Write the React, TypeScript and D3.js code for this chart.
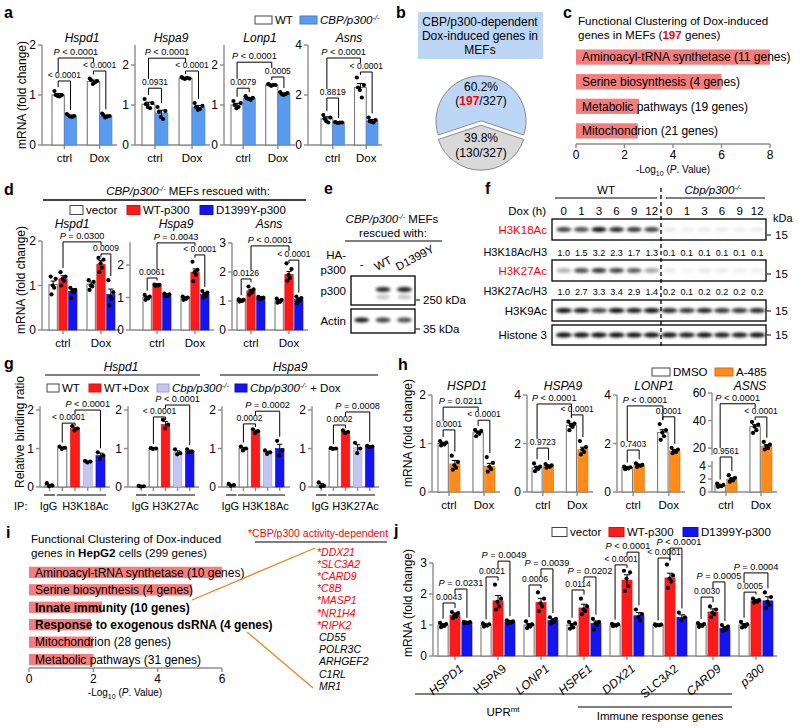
import React from "react";
import * as d3 from "d3";

const FONT = "'Liberation Sans', Arial, Helvetica, sans-serif";
const WHITE = "#ffffff";
const LBLUE = "#5a9bf0";
const RED = "#ff1a1a";
const BLUE = "#1414f0";
const LAV = "#c5c5f2";
const ORANGE = "#ff8c1a";
const PINK = "#f47e7e";
const AX = "#8c8c8c";
const TRED = "#ff0000";

type Br = [number, number, number, string, number?];

// ===== panel a =====
const aGenes = ["Hspd1", "Hspa9", "Lonp1", "Asns"];
const aCats = ["ctrl", "Dox"];
const aMax = [2, 2.5, 2.5, 4];
const aTicks = [[0, 1, 2], [0, 1, 2], [0, 1, 2], [0, 2, 4]];
const aMeans = [[1.0, 0.58, 1.27, 0.58], [1.02, 0.8, 1.67, 0.95], [1.0, 1.17, 1.5, 1.28], [1.05, 0.9, 2.3, 0.97]];
const aSems = [[0.03, 0.02, 0.03, 0.02], [0.05, 0.07, 0.02, 0.04], [0.04, 0.02, 0.02, 0.02], [0.08, 0.01, 0.16, 0.05]];
const aDots = [
  [[1.08, 1.0, 0.98, 0.97, 1.0], [0.62, 0.58, 0.57, 0.56, 0.6], [1.33, 1.28, 1.22, 1.25, 1.3], [0.63, 0.58, 0.55, 0.57, 0.6]],
  [[1.15, 1.05, 0.95, 0.92, 1.02], [0.95, 0.85, 0.7, 0.65, 0.83], [1.7, 1.66, 1.65, 1.68, 1.67], [1.05, 0.98, 0.88, 0.9, 0.95]],
  [[1.1, 1.05, 0.92, 0.95, 1.0], [1.22, 1.18, 1.15, 1.13, 1.17], [1.52, 1.5, 1.48, 1.5, 1.51], [1.32, 1.3, 1.25, 1.27, 1.28]],
  [[1.2, 1.1, 0.95, 0.9, 1.05], [0.92, 0.9, 0.88, 0.9, 0.9], [2.7, 2.4, 2.2, 1.9, 2.3], [1.1, 1.0, 0.92, 0.9, 0.95]],
];
const aBr: Br[][] = [
  [[0, 1, 1.28, "< 0.0001"], [2, 3, 1.48, "< 0.0001"], [0, 2, 1.74, "P < 0.0001"]],
  [[0, 1, 1.42, "0.0931"], [2, 3, 1.85, "< 0.0001"], [0, 2, 2.17, "P < 0.0001"]],
  [[0, 1, 1.42, "0.0079"], [2, 3, 1.7, "0.0005"], [0, 2, 2.07, "P < 0.0001"]],
  [[0, 1, 1.88, "0.8819"], [2, 3, 2.92, "< 0.0001"], [0, 2, 3.48, "P < 0.0001"]],
];

// ===== panel b =====
const pieVals = [197, 130];
const pieColors = ["#bcd6f6", "#d9d9d9"];

// ===== panel c =====
const cTerms = ["Aminoacyl-tRNA synthetase (11 genes)", "Serine biosynthesis (4 genes)", "Metabolic pathways (19 genes)", "Mitochondrion (21 genes)"];
const cVals = [8.0, 6.0, 2.6, 2.55];
const cTicks = [0, 2, 4, 6, 8];

// ===== panel d =====
const dGenes = ["Hspd1", "Hspa9", "Asns"];
const dCats = ["ctrl", "Dox"];
const dMax = [2, 2.7, 3];
const dTicks = [[0, 1, 2], [0, 1, 2], [0, 1, 2, 3]];
const dMeans = [[1.02, 1.15, 0.87, 1.03, 1.48, 0.8], [1.0, 1.38, 1.08, 0.98, 1.78, 1.1], [1.02, 1.35, 1.1, 1.0, 1.92, 1.05]];
const dSems = [[0.08, 0.07, 0.06, 0.05, 0.08, 0.12], [0.03, 0.01, 0.02, 0.03, 0.1, 0.05], [0.02, 0.05, 0.02, 0.03, 0.1, 0.05]];
const dDots = [
  [[1.2, 1.15, 1.0, 0.95, 0.8], [1.3, 1.2, 1.15, 1.1, 1.0], [0.95, 0.9, 0.88, 0.85, 0.72], [1.12, 1.08, 1.0, 0.98, 0.9], [1.62, 1.58, 1.5, 1.4, 1.3], [1.12, 0.85, 0.75, 0.7, 0.55]],
  [[1.08, 1.03, 1.0, 0.97, 0.93], [1.4, 1.39, 1.38, 1.37, 1.36], [1.12, 1.1, 1.08, 1.06, 1.04], [1.03, 1.0, 0.98, 0.96, 0.93], [2.1, 1.85, 1.78, 1.7, 1.5], [1.2, 1.15, 1.1, 1.05, 1.0]],
  [[1.06, 1.04, 1.02, 1.0, 0.98], [1.5, 1.4, 1.35, 1.3, 1.22], [1.14, 1.12, 1.1, 1.08, 1.06], [1.08, 1.04, 1.0, 0.97, 0.94], [2.3, 2.1, 1.9, 1.8, 1.7], [1.15, 1.1, 1.05, 1.0, 0.92]],
];
const dBr: Br[][] = [
  [[1, 4, 1.98, "P = 0.0300"], [4, 5, 1.71, "0.0009"]],
  [[0, 1, 1.6, "0.0061"], [1, 4, 2.68, "P = 0.0043"], [4, 5, 2.31, "< 0.0001"]],
  [[0, 1, 1.76, "0.0126"], [1, 4, 2.9, "P < 0.0001"], [4, 5, 2.41, "< 0.0001"]],
];

// ===== panel e =====
const eLanes = ["-", "WT", "D1399Y"];
const eP300 = [0, 0.85, 0.9];
const eActin = [0.9, 0.75, 0.7];

// ===== panel f =====
const fLanes = ["0", "1", "3", "6", "9", "12", "0", "1", "3", "6", "9", "12"];
const fK18Ratio = ["1.0", "1.5", "3.2", "2.3", "1.7", "1.3", "0.1", "0.1", "0.1", "0.1", "0.1", "0.1"];
const fK27Ratio = ["1.0", "2.7", "3.3", "3.4", "2.9", "1.4", "0.2", "0.1", "0.2", "0.2", "0.2", "0.2"];
const fK18Band = [0.75, 0.7, 0.95, 0.85, 0.8, 0.75, 0.08, 0.05, 0.07, 0.07, 0.06, 0.07];
const fK27Band = [0.3, 0.7, 0.8, 0.75, 0.65, 0.35, 0.07, 0.04, 0.09, 0.07, 0.06, 0.06];
const fK9Band = [0.95, 0.9, 0.75, 0.95, 0.9, 0.95, 0.85, 0.8, 0.88, 0.8, 0.8, 0.85];
const fH3Band = [0.95, 0.95, 0.95, 0.95, 0.95, 0.95, 0.95, 0.9, 0.95, 0.9, 0.9, 0.95];

// ===== panel g =====
const gAb = ["H3K18Ac", "H3K27Ac", "H3K18Ac", "H3K27Ac"];
const gMeans = [[0.05, 1.02, 1.52, 0.66, 0.82], [0.02, 1.0, 1.63, 0.9, 0.93], [0.05, 1.0, 1.45, 0.9, 1.0], [0.05, 1.0, 1.43, 1.02, 1.05]];
const gSems = [[0.02, 0.02, 0.03, 0.01, 0.06], [0.01, 0.01, 0.07, 0.04, 0.03], [0.02, 0.03, 0.03, 0.03, 0.11], [0.04, 0.01, 0.02, 0.08, 0.01]];
const gDots = [
  [[0.1, 0.04, 0.02], [1.05, 1.02, 0.99], [1.58, 1.52, 1.47], [0.68, 0.66, 0.64], [0.9, 0.82, 0.73]],
  [[0.03, 0.02, 0.01], [1.01, 1.0, 0.99], [1.75, 1.62, 1.52], [0.98, 0.88, 0.85], [0.98, 0.92, 0.9]],
  [[0.08, 0.05, 0.03], [1.05, 1.0, 0.95], [1.5, 1.45, 1.4], [0.95, 0.9, 0.86], [1.2, 0.95, 0.82]],
  [[0.12, 0.03, 0.01], [1.01, 1.0, 0.99], [1.47, 1.43, 1.4], [1.15, 1.0, 0.88], [1.07, 1.05, 1.04]],
];
const gBr: Br[][] = [
  [[1, 2, 1.66, "< 0.0001"], [2, 4, 2.0, "P < 0.0001"]],
  [[1, 2, 1.82, "< 0.0001"], [2, 4, 2.13, "P < 0.0001"]],
  [[1, 2, 1.64, "0.0002"], [2, 4, 1.97, "P = 0.0002"]],
  [[1, 2, 1.61, "0.0002"], [2, 4, 1.95, "P = 0.0008"]],
];

// ===== panel h =====
const hGenes = ["HSPD1", "HSPA9", "LONP1", "ASNS"];
const hCats = ["ctrl", "Dox"];
const hMeans = [[1.0, 0.58, 1.22, 0.53], [1.0, 1.07, 2.75, 1.75], [1.0, 1.1, 2.45, 1.7], [1.0, 2.0, 35.5, 21.5]];
const hSems = [[0.02, 0.07, 0.03, 0.06], [0.06, 0.03, 0.08, 0.1], [0.03, 0.03, 0.12, 0.05], [0.1, 0.15, 1.6, 1.0]];
const hDots = [
  [[1.05, 1.02, 1.0, 0.98, 0.96], [0.75, 0.62, 0.55, 0.5, 0.46], [1.28, 1.26, 1.23, 1.2, 1.15], [0.72, 0.6, 0.52, 0.47, 0.42]],
  [[1.18, 1.05, 1.0, 0.95, 0.86], [1.15, 1.1, 1.07, 1.04, 1.0], [2.9, 2.82, 2.75, 2.68, 2.55], [2.1, 1.85, 1.75, 1.65, 1.55]],
  [[1.05, 1.02, 1.0, 0.97, 0.94], [1.18, 1.12, 1.1, 1.08, 1.03], [2.8, 2.55, 2.45, 2.3, 2.15], [1.82, 1.75, 1.7, 1.65, 1.6]],
  [[1.3, 1.1, 1.0, 0.9, 0.8], [2.6, 2.2, 2.0, 1.8, 1.6], [39, 37, 35.5, 33, 31], [24.5, 22.5, 21.5, 20, 19]],
];
const hBr: Br[][] = [
  [[0, 1, 1.28, "0.0001"], [2, 3, 1.48, "< 0.0001"], [0, 2, 1.75, "P = 0.0211"]],
  [[0, 1, 1.81, "0.9723"], [2, 3, 3.18, "< 0.0001"], [0, 2, 3.63, "P < 0.0001"]],
  [[0, 1, 1.73, "0.7403"], [2, 3, 3.1, "0.0001"], [0, 2, 3.55, "P < 0.0001"]],
  [[0, 1, 11.6, "0.9561"], [2, 3, 42.6, "< 0.0001"], [0, 2, 52.2, "P < 0.0001"]],
];

// ===== panel i =====
const iTerms = ["Aminoacyl-tRNA synthetase (10 genes)", "Serine biosynthesis (4 genes)", "Innate immunity (10 genes)", "Response to exogenous dsRNA (4 genes)", "Mitochondrion (28 genes)", "Metabolic pathways (31 genes)"];
const iVals = [6.0, 5.07, 2.27, 1.93, 2.0, 2.0];
const iBold = [false, false, true, true, false, false];
const iTicks = [0, 2, 4, 6];
const iGenesRed = ["DDX21", "SLC3A2", "CARD9", "C8B", "MASP1", "NR1H4", "RIPK2"];
const iGenesBlack = ["CD55", "POLR3C", "ARHGEF2", "C1RL", "MR1"];

// ===== panel j =====
const jGenes = ["HSPD1", "HSPA9", "LONP1", "HSPE1", "DDX21", "SLC3A2", "CARD9", "p300"];
const jItalic = [true, false, true, true, true, false, true, true];
const jMeans = [[1.0, 1.32, 1.08], [1.0, 1.78, 1.1], [1.0, 1.73, 1.15], [1.0, 1.55, 1.05], [1.0, 2.45, 1.3], [1.0, 2.52, 1.25], [1.0, 1.42, 0.9], [1.0, 1.78, 1.78]];
const jSems = [[0.03, 0.07, 0.02], [0.02, 0.17, 0.03], [0.04, 0.13, 0.05], [0.05, 0.12, 0.08], [0.02, 0.17, 0.1], [0.01, 0.15, 0.08], [0.03, 0.1, 0.05], [0.04, 0.05, 0.13]];
const jDots = [
  [[1.07, 1.03, 1.0, 0.97, 0.93], [1.42, 1.38, 1.32, 1.28, 1.22], [1.1, 1.09, 1.08, 1.07, 1.06]],
  [[1.05, 1.02, 1.0, 0.98, 0.95], [2.3, 1.85, 1.75, 1.6, 1.5], [1.15, 1.12, 1.1, 1.08, 1.05]],
  [[1.12, 1.02, 1.0, 0.95, 0.9], [2.05, 1.85, 1.7, 1.6, 1.45], [1.25, 1.2, 1.15, 1.1, 1.05]],
  [[1.1, 1.05, 1.0, 0.92, 0.88], [1.85, 1.6, 1.5, 1.45, 1.35], [1.2, 1.1, 1.05, 1.0, 0.85]],
  [[1.04, 1.02, 1.0, 0.98, 0.96], [2.75, 2.7, 2.5, 2.25, 2.1], [1.5, 1.35, 1.25, 1.15]],
  [[1.02, 1.01, 1.0, 0.99, 0.98], [2.95, 2.6, 2.5, 2.4, 2.2], [1.4, 1.25, 1.15]],
  [[1.06, 1.03, 1.0, 0.97, 0.94], [1.6, 1.5, 1.4, 1.35, 1.25], [1.0, 0.95, 0.9, 0.85, 0.82]],
  [[1.1, 1.02, 1.0, 0.95, 0.92], [1.85, 1.8, 1.78, 1.75, 1.72], [2.05, 1.9, 1.75, 1.65, 1.55]],
];
const jBr: Br[][] = [
  [[0, 1, 1.71, "0.0043"], [1, 2, 2.16, "P = 0.0231"]],
  [[0, 1, 2.55, "0.0021"], [1, 2, 3.06, "P = 0.0049"]],
  [[0, 1, 2.29, "0.0006"], [1, 2, 2.81, "P = 0.0039"]],
  [[0, 1, 2.13, "0.0114"], [1, 2, 2.55, "P = 0.0202"]],
  [[0, 1, 2.94, "< 0.0001"], [1, 2, 3.35, "P < 0.0001", -5]],
  [[0, 1, 3.16, "< 0.0001"], [1, 2, 3.48, "P < 0.0001", 3]],
  [[0, 1, 1.9, "0.0030"], [1, 2, 2.39, "P = 0.0005"]],
  [[0, 1, 2.06, "0.0005"], [0, 2, 2.68, "P = 0.0004"]],
];

// ================= helpers =================
const JIT = [-0.3, 0.3, -0.05, 0.12, -0.2, 0.25];

function PText({ x, y, t, size }: any) {
  if (t.startsWith("P")) {
    return (
      <text x={x} y={y} fontSize={size} textAnchor="middle" style={{ whiteSpace: "pre" }}>
        <tspan fontStyle="italic">P</tspan>
        {t.slice(1)}
      </text>
    );
  }
  return (
    <text x={x} y={y} fontSize={size} textAnchor="middle" style={{ whiteSpace: "pre" }}>
      {t}
    </text>
  );
}

function KO({ name, rest = "", sup = 7.5, lift = 4.5 }: any) {
  return (
    <>
      <tspan fontStyle="italic">{name}</tspan>
      <tspan dy={-lift} fontSize={sup} fontStyle="italic">-/-</tspan>
      <tspan dy={lift}>{rest}</tspan>
    </>
  );
}

function BarPlot(c: any) {
  const outer = d3.scaleBand<number>().domain(d3.range(c.nG)).range([c.bs, c.be]).paddingInner(c.pi).paddingOuter(0);
  const inner = d3.scaleBand<number>().domain(d3.range(c.nP)).range([0, outer.bandwidth()]).paddingInner(c.ip);
  const bw = inner.bandwidth();
  const n = c.nG * c.nP;
  const bx = (k: number) => (outer(Math.floor(k / c.nP)) as number) + (inner(k % c.nP) as number);
  const bc = (k: number) => bx(k) + bw / 2;
  const gc = (g: number) => (outer(g) as number) + outer.bandwidth() / 2;
  const y = c.y;
  const y0 = y(0);
  const R = 2.1;
  const dom = y.domain();
  const segs = c.segs ?? [[0, dom[dom.length - 1]]];
  const topPx = (k: number) => y(Math.max(c.means[k] + c.sems[k], ...c.dots[k])) - R - 2;
  const brY = c.brackets.map((b: Br) => y(b[2]));
  const legB = (bi: number, k: number) => {
    const yb = brY[bi];
    const cands = [topPx(k)];
    c.brackets.forEach((o: Br, oi: number) => {
      if (oi !== bi && brY[oi] > yb && o[0] <= k && k <= o[1]) cands.push(brY[oi] - 9);
    });
    const ok = cands.filter((v: number) => v > yb + 2);
    return ok.length ? Math.min(...ok) : yb + 3;
  };
  const tickXs = c.tickEach ? d3.range(n).map(bc) : d3.range(c.nG).map(gc);
  return (
    <g>
      {segs.map((s: number[], i: number) => (
        <line key={"s" + i} x1={c.x0} x2={c.x0} y1={y(s[0])} y2={y(s[1])} stroke={AX} strokeWidth={1.4} />
      ))}
      {c.ticks.map((t: number) => (
        <g key={"t" + t}>
          <line x1={c.x0 - 4} x2={c.x0} y1={y(t)} y2={y(t)} stroke={AX} strokeWidth={1.4} />
          <text x={c.x0 - 6} y={y(t)} dy="0.36em" textAnchor="end" fontSize={12}>
            {t}
          </text>
        </g>
      ))}
      <line x1={c.x0} x2={c.xEnd} y1={y0} y2={y0} stroke={AX} strokeWidth={1.4} />
      {tickXs.map((x: number, i: number) => (
        <line key={"xt" + i} x1={x} x2={x} y1={y0} y2={y0 + 4} stroke={AX} strokeWidth={1.4} />
      ))}
      {d3.range(n).map((k) => {
        const col = c.colors[k % c.colors.length];
        const white = col === WHITE;
        const yt = y(c.means[k]);
        return (
          <rect
            key={"b" + k}
            x={bx(k)}
            y={yt}
            width={bw}
            height={y0 - yt}
            fill={col}
            stroke={white ? "#7a7a7a" : (d3.color(col) as any).darker(0.5).toString()}
            strokeWidth={white ? 1.1 : 0.6}
          />
        );
      })}
      {d3.range(n).map((k) => {
        const m = c.means[k];
        const s = c.sems[k];
        const cx = bc(k);
        const cap = Math.min(3.5, bw * 0.3);
        return (
          <g key={"e" + k}>
            <line x1={cx} x2={cx} y1={y(Math.max(0, m - s))} y2={y(m + s)} stroke="#000" strokeWidth={1} />
            <line x1={cx - cap} x2={cx + cap} y1={y(m + s)} y2={y(m + s)} stroke="#000" strokeWidth={1} />
            {c.dots[k].map((v: number, i: number) => (
              <circle key={i} cx={cx + JIT[i] * bw} cy={y(v)} r={R} fill="#000" />
            ))}
          </g>
        );
      })}
      {c.brackets.map((b: Br, bi: number) => {
        const xa = bc(b[0]);
        const xb = bc(b[1]);
        const yb = brY[bi];
        return (
          <g key={"br" + bi}>
            <path d={`M${xa},${legB(bi, b[0])}V${yb}H${xb}V${legB(bi, b[1])}`} fill="none" stroke="#000" strokeWidth={1} />
            <PText x={(xa + xb) / 2 + (b[4] ?? 0)} y={yb - 3} t={b[3]} size={b[3].startsWith("P") ? 9.2 : 8.5} />
          </g>
        );
      })}
      {c.title && (
        <text x={c.titleX} y={c.titleY} textAnchor="middle" fontSize={12} fontStyle="italic">
          {c.title}
        </text>
      )}
      {c.cats &&
        c.cats.map((t: string, g: number) => (
          <text key={"c" + g} x={gc(g)} y={y0 + 17} textAnchor="middle" fontSize={11.5}>
            {t}
          </text>
        ))}
      {c.rot &&
        c.rot.map((t: string, g: number) => (
          <text
            key={"r" + g}
            transform={`translate(${gc(g) + 9},${y0 + 14}) rotate(-40)`}
            textAnchor="end"
            fontSize={12}
            fontStyle={c.rotIt[g] ? "italic" : "normal"}
          >
            {t}
          </text>
        ))}
      {c.under &&
        c.under.map((u: any, i: number) => {
          const xa = bx(u[0]) - 1;
          const xb = bx(u[1]) + bw + 1;
          return (
            <g key={"u" + i}>
              <line x1={xa} x2={xb} y1={y0 + 8} y2={y0 + 8} stroke="#000" strokeWidth={1.1} />
              <text x={(xa + xb) / 2 + (u[3] ?? 0)} y={y0 + 23} textAnchor="middle" fontSize={11}>
                {u[2]}
              </text>
            </g>
          );
        })}
    </g>
  );
}

function Legend({ items, y, w = 15, h = 8, size = 11.5 }: any) {
  return (
    <g>
      {items.map((it: any, i: number) => (
        <g key={i}>
          <rect
            x={it.x}
            y={y - h / 2}
            width={w}
            height={h}
            fill={it.color}
            stroke={it.color === WHITE ? "#444" : (d3.color(it.color) as any).darker(0.6).toString()}
            strokeWidth={1}
          />
          <text x={it.x + w + 3} y={y} dy="0.36em" fontSize={size}>
            {it.label}
          </text>
        </g>
      ))}
    </g>
  );
}

function YTitle({ x, y, text, size = 12 }: any) {
  return (
    <text transform={`translate(${x},${y}) rotate(-90)`} textAnchor="middle" dy="0.35em" fontSize={size}>
      {text}
    </text>
  );
}

function LogTitle({ x, y }: any) {
  return (
    <text x={x} y={y} textAnchor="middle" fontSize={10}>
      -Log
      <tspan dy={2.5} fontSize={7}>10</tspan>
      <tspan dy={-2.5}> (</tspan>
      <tspan fontStyle="italic">P</tspan>. Value)
    </text>
  );
}

function HBar({ x0, x1, max, ticks, yTop, yBot, axisY, values, labels, bold, pi, po }: any) {
  const x = d3.scaleLinear().domain([0, max]).range([x0, x1]);
  const yb = d3.scaleBand<number>().domain(d3.range(values.length)).range([yTop, yBot]).paddingInner(pi).paddingOuter(po);
  return (
    <g>
      {values.map((v: number, i: number) => (
        <rect key={"r" + i} x={x(0)} y={yb(i)} width={x(v) - x(0)} height={yb.bandwidth()} fill={PINK} />
      ))}
      {labels.map((t: string, i: number) => (
        <text
          key={"l" + i}
          x={x0 + 6}
          y={(yb(i) as number) + yb.bandwidth() / 2}
          dy="0.36em"
          fontSize={12}
          fontWeight={bold && bold[i] ? "bold" : "normal"}
        >
          {t}
        </text>
      ))}
      <line x1={x(0)} x2={x(max)} y1={axisY} y2={axisY} stroke={AX} strokeWidth={1.4} />
      {ticks.map((t: number) => (
        <g key={"t" + t}>
          <line x1={x(t)} x2={x(t)} y1={axisY} y2={axisY + 4} stroke={AX} strokeWidth={1.4} />
          <text x={x(t)} y={axisY + 15} textAnchor="middle" fontSize={12}>
            {t}
          </text>
        </g>
      ))}
    </g>
  );
}

function Blot({ x, y, w, h, centers, intens, bw, bh, dy = 0 }: any) {
  return (
    <g>
      <rect x={x} y={y} width={w} height={h} fill="#fff" stroke="#000" strokeWidth={1.3} />
      <g filter="url(#blur)">
        {centers.map((cx: number, i: number) =>
          intens[i] > 0 ? (
            <ellipse key={i} cx={cx} cy={y + h / 2 + dy} rx={bw / 2} ry={bh / 2} fill="#000" fillOpacity={intens[i]} />
          ) : null
        )}
      </g>
    </g>
  );
}

const PanelLabel = ({ x, y, t }: any) => (
  <text x={x} y={y} fontSize={16} fontWeight="bold">
    {t}
  </text>
);

// ================= App =================
export default function App() {
  const aLay = [
    { x0: 42, bs: 52, be: 112, xEnd: 117, tx: 82 },
    { x0: 135, bs: 142, be: 205, xEnd: 210, tx: 171 },
    { x0: 224, bs: 231, be: 290, xEnd: 295, tx: 260 },
    { x0: 308, bs: 321, be: 378, xEnd: 382, tx: 349 },
  ];
  const dLay = [
    { x0: 42, bs: 49, be: 115, xEnd: 120, tx: 72 },
    { x0: 130, bs: 143, be: 209, xEnd: 214, tx: 176 },
    { x0: 232, bs: 237, be: 303, xEnd: 308, tx: 269 },
  ];
  const dRange: [number, number][] = [[330, 241], [330, 242.25], [330, 243]];
  const gLay = [
    { x0: 40, bs: 45, be: 105, xEnd: 110 },
    { x0: 128, bs: 137, be: 194, xEnd: 199 },
    { x0: 222, bs: 227, be: 284, xEnd: 290 },
    { x0: 312, bs: 317, be: 374, xEnd: 379 },
  ];
  const gY = d3.scaleLinear().domain([0, 2.1]).range([487, 406.2]);
  const hLay = [
    { x0: 432, bs: 438, be: 495, xEnd: 500, tx: 467 },
    { x0: 527, bs: 532, be: 588, xEnd: 593, tx: 563 },
    { x0: 617, bs: 622, be: 680, xEnd: 685, tx: 654 },
    { x0: 712, bs: 715, be: 772, xEnd: 777, tx: 750 },
  ];
  const hY = [
    d3.scaleLinear().domain([0, 2]).range([492, 395]),
    d3.scaleLinear().domain([0, 4]).range([492, 395]),
    d3.scaleLinear().domain([0, 4]).range([492, 395]),
    d3.scaleLinear().domain([0, 4.8, 15, 60]).range([492, 461, 455, 393]),
  ];
  const hTicks = [[0, 1, 2], [0, 2, 4], [0, 2, 4], [0, 2, 4, 20, 40, 60]];
  const jY = d3.scaleLinear().domain([0, 3]).range([656, 563]);

  const total = d3.sum(pieVals);
  const start = Math.PI + (Math.PI * pieVals[1]) / total;
  const pieArcs = d3.pie<number>().sort(null).startAngle(start).endAngle(start + 2 * Math.PI)(pieVals);
  const arcGen = d3.arc<any>().innerRadius(0).outerRadius(45);
  const pcx = 481;
  const pcy = 123;

  const fX = d3.scalePoint<number>().domain(d3.range(12)).range([555, 766]).padding(0.5);
  const fCenters = d3.range(12).map((i) => fX(i) as number);
  const eX = d3.scalePoint<number>().domain(d3.range(3)).range([351, 415]).padding(0.5);
  const eCenters = d3.range(3).map((i) => eX(i) as number);

  return (
    <svg
      width={800}
      height={728}
      style={{ position: "absolute", left: 0, top: 0, background: "#fff" }}
      fontFamily={FONT}
    >
      <defs>
        <filter id="blur" x="-50%" y="-100%" width="200%" height="300%">
          <feGaussianBlur stdDeviation="1.4" />
        </filter>
      </defs>
      <rect width={800} height={728} fill="#fff" />

      {/* ===== a ===== */}
      <PanelLabel x={4} y={18} t="a" />
      <Legend
        y={20}
        w={17}
        h={8}
        items={[
          { x: 255, color: WHITE, label: "WT" },
          { x: 300, color: LBLUE, label: <KO name="CBP/p300" /> },
        ]}
      />
      <YTitle x={22} y={95} text="mRNA (fold change)" />
      {aGenes.map((gname, i) => (
        <BarPlot
          key={gname}
          {...aLay[i]}
          y={d3.scaleLinear().domain([0, aMax[i]]).range([145, 45])}
          ticks={aTicks[i]}
          nG={2}
          nP={2}
          pi={0.3}
          ip={0}
          means={aMeans[i]}
          sems={aSems[i]}
          dots={aDots[i]}
          colors={[WHITE, LBLUE]}
          brackets={aBr[i]}
          title={gname}
          titleX={aLay[i].tx}
          titleY={42}
          cats={aCats}
        />
      ))}

      {/* ===== b ===== */}
      <PanelLabel x={396} y={18} t="b" />
      <rect x={418} y={12} width={125} height={47} fill="#bcd6f4" />
      <text x={480} y={26} textAnchor="middle" fontSize={12}>CBP/p300-dependent</text>
      <text x={480} y={40} textAnchor="middle" fontSize={12}>Dox-induced genes in</text>
      <text x={480} y={54} textAnchor="middle" fontSize={12}>MEFs</text>
      {pieArcs.map((a, i) => {
        const mid = (a.startAngle + a.endAngle) / 2;
        const off = 2.2;
        const dx = Math.sin(mid) * off;
        const dy = -Math.cos(mid) * off;
        return (
          <path
            key={i}
            d={arcGen(a) as string}
            transform={`translate(${pcx + dx},${pcy + dy})`}
            fill={pieColors[i]}
            stroke="#8a8a8a"
            strokeWidth={1}
          />
        );
      })}
      <text x={481} y={91} textAnchor="middle" fontSize={12}>
        {((pieVals[0] / total) * 100).toFixed(1)}%
      </text>
      <text x={481} y={105} textAnchor="middle" fontSize={12}>
        (<tspan fill={TRED} fontWeight="bold">{pieVals[0]}</tspan>/{total})
      </text>
      <text x={481} y={142} textAnchor="middle" fontSize={12}>
        {((pieVals[1] / total) * 100).toFixed(1)}%
      </text>
      <text x={481} y={157} textAnchor="middle" fontSize={12}>
        ({pieVals[1]}/{total})
      </text>

      {/* ===== c ===== */}
      <PanelLabel x={563} y={18} t="c" />
      <text x={578} y={25} fontSize={11.6}>Functional Clustering of Dox-induced</text>
      <text x={578} y={39} fontSize={11.6}>
        genes in MEFs (<tspan fill={TRED} fontWeight="bold">197</tspan> genes)
      </text>
      <HBar x0={576} x1={770} max={8} ticks={cTicks} yTop={47} yBot={141} axisY={144} values={cVals} labels={cTerms} pi={0.38} po={0.1} />
      <LogTitle x={673} y={173} />

      {/* ===== d ===== */}
      <PanelLabel x={4} y={195} t="d" />
      <text x={188} y={195} textAnchor="middle" fontSize={11.5}>
        <KO name="CBP/p300" rest=" MEFs rescued with:" />
      </text>
      <line x1={43} x2={306} y1={200} y2={200} stroke="#000" strokeWidth={1.3} />
      <Legend
        y={210}
        w={13}
        h={9}
        items={[
          { x: 70, color: WHITE, label: "vector" },
          { x: 127, color: RED, label: "WT-p300" },
          { x: 200, color: BLUE, label: "D1399Y-p300" },
        ]}
      />
      <YTitle x={21} y={280} text="mRNA (fold change)" />
      {dGenes.map((gname, i) => (
        <BarPlot
          key={gname}
          {...dLay[i]}
          y={d3.scaleLinear().domain([0, dMax[i]]).range(dRange[i])}
          ticks={dTicks[i]}
          nG={2}
          nP={3}
          pi={0.263}
          ip={0.15}
          means={dMeans[i]}
          sems={dSems[i]}
          dots={dDots[i]}
          colors={[WHITE, RED, BLUE]}
          brackets={dBr[i]}
          title={gname}
          titleX={dLay[i].tx}
          titleY={228}
          cats={dCats}
        />
      ))}

      {/* ===== e ===== */}
      <PanelLabel x={324} y={194} t="e" />
      <text x={392} y={223} textAnchor="middle" fontSize={11.5}>
        <KO name="CBP/p300" rest=" MEFs" />
      </text>
      <text x={393} y={237} textAnchor="middle" fontSize={11.5}>rescued with:</text>
      <line x1={345} x2={442} y1={241} y2={241} stroke="#000" strokeWidth={1.2} />
      <text x={346} y={259} textAnchor="end" fontSize={11.5}>HA-</text>
      <text x={346} y={274} textAnchor="end" fontSize={11.5}>p300</text>
      {eLanes.map((l, i) =>
        i === 0 ? (
          <text key={i} x={eCenters[i]} y={268} textAnchor="middle" fontSize={11.5}>{l}</text>
        ) : (
          <text key={i} transform={`translate(${eCenters[i] - 6},${271}) rotate(-28)`} fontSize={11.5}>{l}</text>
        )
      )}
      <text x={346} y={295} textAnchor="end" fontSize={11.5}>p300</text>
      <Blot x={351} y={276} w={64} h={29} centers={eCenters} intens={eP300} bw={15} bh={5} dy={-1} />
      <g filter="url(#blur)">
        {eCenters.map((cx, i) =>
          eP300[i] > 0 ? <ellipse key={i} cx={cx} cy={297} rx={7} ry={2.5} fill="#000" fillOpacity={eP300[i] * 0.25} /> : null
        )}
      </g>
      <line x1={416} x2={420} y1={300} y2={300} stroke="#000" strokeWidth={1} />
      <text x={423} y={304} fontSize={11.5}>250 kDa</text>
      <text x={346} y={325} textAnchor="end" fontSize={11.5}>Actin</text>
      <Blot x={351} y={309} w={64} h={24} centers={eCenters} intens={eActin} bw={15} bh={5} dy={-1} />
      <line x1={416} x2={420} y1={329} y2={329} stroke="#000" strokeWidth={1} />
      <text x={423} y={333} fontSize={11.5}>35 kDa</text>

      {/* ===== f ===== */}
      <PanelLabel x={485} y={194} t="f" />
      <text x={606} y={194} textAnchor="middle" fontSize={11.5}>WT</text>
      <line x1={555} x2={657} y1={198} y2={198} stroke="#000" strokeWidth={1.2} />
      <text x={713} y={194} textAnchor="middle" fontSize={11.5}>
        <KO name="Cbp/p300" />
      </text>
      <line x1={666} x2={765} y1={198} y2={198} stroke="#000" strokeWidth={1.2} />
      <text x={546} y={215} textAnchor="end" fontSize={11.5}>Dox (h)</text>
      {fLanes.map((l, i) => (
        <text key={i} x={fCenters[i]} y={215} textAnchor="middle" fontSize={11.5}>{l}</text>
      ))}
      <text x={547} y={234} textAnchor="end" fontSize={11.5} fill={TRED}>H3K18Ac</text>
      <Blot x={552} y={219} w={214} h={21} centers={fCenters} intens={fK18Band} bw={15} bh={5} />
      <text x={547} y={256} textAnchor="end" fontSize={11}>H3K18Ac/H3</text>
      {fK18Ratio.map((v, i) => (
        <text key={i} x={fCenters[i]} y={256} textAnchor="middle" fontSize={9}>{v}</text>
      ))}
      <text x={547} y={275} textAnchor="end" fontSize={11.5} fill={TRED}>H3K27Ac</text>
      <Blot x={552} y={260} w={214} h={21} centers={fCenters} intens={fK27Band} bw={15} bh={5} />
      <text x={547} y={295} textAnchor="end" fontSize={11}>H3K27Ac/H3</text>
      {fK27Ratio.map((v, i) => (
        <text key={i} x={fCenters[i]} y={295} textAnchor="middle" fontSize={9}>{v}</text>
      ))}
      <text x={547} y={315} textAnchor="end" fontSize={11.5}>H3K9Ac</text>
      <Blot x={552} y={300} w={214} h={21} centers={fCenters} intens={fK9Band} bw={16} bh={5} />
      <text x={547} y={339} textAnchor="end" fontSize={11.5}>Histone 3</text>
      <Blot x={552} y={325} w={214} h={20} centers={fCenters} intens={fH3Band} bw={16} bh={5} />
      <line x1={661} x2={661} y1={188} y2={348} stroke="#000" strokeWidth={1.3} strokeDasharray="4,3" />
      <text x={773} y={222} fontSize={11}>kDa</text>
      {[235, 274, 311, 335].map((yy, i) => (
        <g key={i}>
          <line x1={767} x2={771} y1={yy} y2={yy} stroke="#000" strokeWidth={1} />
          <text x={775} y={yy + 4} fontSize={11.5}>15</text>
        </g>
      ))}

      {/* ===== g ===== */}
      <PanelLabel x={4} y={369} t="g" />
      <text x={121} y={371} textAnchor="middle" fontSize={12} fontStyle="italic">Hspd1</text>
      <line x1={45} x2={200} y1={375} y2={375} stroke="#000" strokeWidth={1.2} />
      <text x={290} y={371} textAnchor="middle" fontSize={12} fontStyle="italic">Hspa9</text>
      <line x1={220} x2={378} y1={375} y2={375} stroke="#000" strokeWidth={1.2} />
      <Legend
        y={388}
        w={12}
        h={8}
        items={[
          { x: 47, color: WHITE, label: "WT" },
          { x: 89, color: RED, label: "WT+Dox" },
          { x: 157, color: LAV, label: <KO name="Cbp/p300" /> },
          { x: 235, color: BLUE, label: <KO name="Cbp/p300" rest=" + Dox" /> },
        ]}
      />
      <YTitle x={20} y={432} text="Relative binding ratio" />
      {gAb.map((ab, i) => (
        <BarPlot
          key={i}
          {...gLay[i]}
          y={gY}
          ticks={[0, 1, 2]}
          nG={5}
          nP={1}
          pi={0.29}
          ip={0}
          means={gMeans[i]}
          sems={gSems[i]}
          dots={gDots[i]}
          colors={[WHITE, WHITE, RED, LAV, BLUE]}
          brackets={gBr[i]}
          tickEach={true}
          under={[[0, 0, "IgG", -1], [1, 4, ab, 4]]}
        />
      ))}
      <text x={14} y={510} fontSize={11}>IP:</text>

      {/* ===== h ===== */}
      <PanelLabel x={398} y={370} t="h" />
      <Legend
        y={372}
        w={18}
        h={8}
        items={[
          { x: 652, color: WHITE, label: "DMSO" },
          { x: 715, color: ORANGE, label: "A-485" },
        ]}
      />
      <YTitle x={408} y={433} text="mRNA (fold change)" />
      {hGenes.map((gname, i) => (
        <BarPlot
          key={gname}
          {...hLay[i]}
          y={hY[i]}
          ticks={hTicks[i]}
          segs={i === 3 ? [[0, 4.8], [15, 60]] : undefined}
          nG={2}
          nP={2}
          pi={0.37}
          ip={0.12}
          means={hMeans[i]}
          sems={hSems[i]}
          dots={hDots[i]}
          colors={[WHITE, ORANGE]}
          brackets={hBr[i]}
          title={gname}
          titleX={hLay[i].tx}
          titleY={390}
          cats={hCats}
        />
      ))}

      {/* ===== i ===== */}
      <PanelLabel x={6} y={538} t="i" />
      <text x={31} y={543} fontSize={11.6}>Functional Clustering of Dox-induced</text>
      <text x={31} y={557} fontSize={11.6}>
        genes in <tspan fontWeight="bold">HepG2</tspan> cells (299 genes)
      </text>
      <HBar x0={29} x1={222} max={6} ticks={iTicks} yTop={565} yBot={667} axisY={668} values={iVals} labels={iTerms} bold={iBold} pi={0.35} po={0.1} />
      <LogTitle x={125} y={696} />
      <text x={248} y={537} fontSize={10.5} fill={TRED}>*CBP/p300 activity-dependent</text>
      <line x1={255} x2={387} y1={542} y2={542} stroke="#000" strokeWidth={1.2} />
      {iGenesRed.map((g, i) => (
        <text key={g} x={317} y={555.5 + i * 12.2} fontSize={10.5} fontStyle="italic" fill={TRED}>
          *{g}
        </text>
      ))}
      {iGenesBlack.map((g, i) => (
        <text key={g} x={319} y={555.5 + (i + iGenesRed.length) * 12.2} fontSize={10.5} fontStyle="italic">
          {g}
        </text>
      ))}
      <line x1={192} y1={600} x2={315} y2={548} stroke="#e8862a" strokeWidth={1.3} />
      <line x1={247} y1={632} x2={313} y2={688} stroke="#e8862a" strokeWidth={1.3} />

      {/* ===== j ===== */}
      <PanelLabel x={394} y={536} t="j" />
      <Legend
        y={532}
        w={15}
        h={9}
        items={[
          { x: 552, color: WHITE, label: "vector" },
          { x: 609, color: RED, label: "WT-p300" },
          { x: 683, color: BLUE, label: "D1399Y-p300" },
        ]}
      />
      <YTitle x={408} y={603} text="mRNA (fold change)" />
      <BarPlot
        x0={433}
        bs={438}
        be={773}
        xEnd={777}
        y={jY}
        ticks={[0, 1, 2, 3]}
        nG={8}
        nP={3}
        pi={0.209}
        ip={0.15}
        means={jMeans.flat()}
        sems={jSems.flat()}
        dots={jDots.flat()}
        colors={[WHITE, RED, BLUE]}
        brackets={jBr.flatMap((bs, g) => bs.map((b) => [b[0] + 3 * g, b[1] + 3 * g, b[2], b[3], b[4]] as Br))}
        rot={jGenes}
        rotIt={jItalic}
      />
      <line x1={415} x2={732} y1={694} y2={694} stroke="#000" strokeWidth={1.2} />
      <line x1={578} x2={732} y1={707} y2={707} stroke="#000" strokeWidth={1.2} />
      <text x={503} y={716} textAnchor="middle" fontSize={11.5}>
        UPR<tspan dy={-4} fontSize={8}>mt</tspan>
      </text>
      <text x={660} y={720} textAnchor="middle" fontSize={11.5}>Immune response genes</text>
    </svg>
  );
}
